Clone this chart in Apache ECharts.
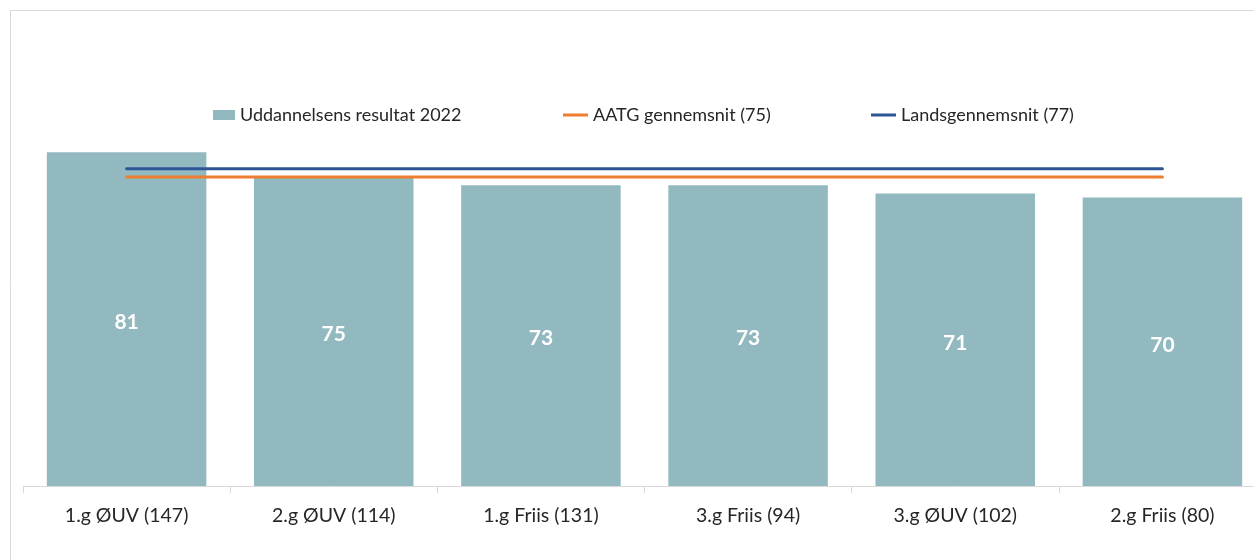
<!DOCTYPE html>
<html>
<head>
<meta charset="utf-8">
<script src="https://cdn.jsdelivr.net/npm/echarts@6/dist/echarts.min.js"></script>
<style>
  html, body { margin: 0; padding: 0; background: #fff; overflow: hidden; }
  #main { width: 1280px; height: 560px; }
</style>
</head>
<body>
<div id="main"></div>
<script>
  // data
  var categories = ['1.g ØUV (147)', '2.g ØUV (114)', '1.g Friis (131)', '3.g Friis (94)', '3.g ØUV (102)', '2.g Friis (80)'];
  var results = [81, 75, 73, 73, 71, 70];
  var aatgAvg = [75, 75, 75, 75, 75, 75];
  var nationalAvg = [77, 77, 77, 77, 77, 77];

  var nameBar = 'Uddannelsens resultat 2022';
  var nameAatg = 'AATG gennemsnit (75)';
  var nameLand = 'Landsgennemsnit (77)';

  var chartDom = document.getElementById('main');
  var myChart = echarts.init(chartDom);
  var font = 'Lato, "Open Sans", sans-serif';
  var legendText = { fontFamily: font, fontSize: 18, color: '#262626' };

  var option = {
    animation: false,
    graphic: [{
      type: 'rect',
      shape: { x: 10.5, y: 10.5, width: 1400, height: 700 },
      style: { fill: 'none', stroke: '#d9d9d9', lineWidth: 1 },
      silent: true
    }],
    legend: [
      {
        data: [{ name: nameBar, icon: 'rect' }],
        left: 213, top: 106, padding: 0,
        itemWidth: 22, itemHeight: 10, itemGap: 3,
        textStyle: legendText
      },
      {
        data: [{ name: nameAatg, icon: 'rect' }],
        left: 563, top: 106, padding: 0,
        itemWidth: 25, itemHeight: 3,
        textStyle: legendText
      },
      {
        data: [{ name: nameLand, icon: 'rect' }],
        left: 871, top: 106, padding: 0,
        itemWidth: 25, itemHeight: 3,
        textStyle: legendText
      }
    ],
    grid: { left: 23, top: 74, width: 1243, height: 412, containLabel: false },
    xAxis: {
      type: 'category',
      data: categories,
      boundaryGap: true,
      axisLine: { lineStyle: { color: '#d9d9d9', width: 1 } },
      axisTick: { show: true, length: 7, lineStyle: { color: '#d9d9d9' } },
      axisLabel: { fontFamily: font, fontSize: 19.5, color: '#262626', margin: 20, interval: 0 }
    },
    yAxis: {
      type: 'value',
      min: 0,
      max: 100,
      show: false,
      splitLine: { show: false }
    },
    series: [
      {
        name: nameBar,
        type: 'bar',
        data: results,
        barCategoryGap: '23%',
        itemStyle: { color: '#92b9bf' },
        label: {
          show: true,
          position: 'inside',
          offset: [0, 3],
          color: '#fff',
          fontFamily: font,
          fontWeight: 'bold',
          fontSize: 21
        }
      },
      {
        name: nameAatg,
        type: 'line',
        data: aatgAvg,
        symbol: 'none',
        z: 3,
        itemStyle: { color: '#ed7d31' },
        lineStyle: { color: '#ed7d31', width: 3, cap: 'round' }
      },
      {
        name: nameLand,
        type: 'line',
        data: nationalAvg,
        symbol: 'none',
        z: 3,
        itemStyle: { color: '#2f5597' },
        lineStyle: { color: '#2f5597', width: 3, cap: 'round' }
      }
    ]
  };

  option && myChart.setOption(option);
</script>
</body>
</html>
